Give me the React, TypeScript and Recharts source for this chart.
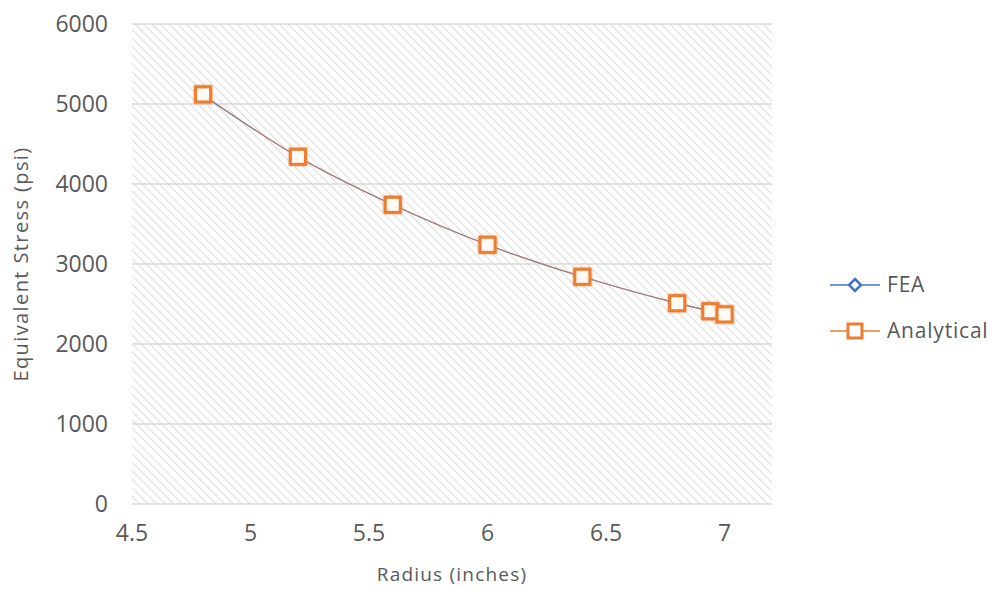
import { LineChart, Line, XAxis, YAxis, CartesianGrid } from "recharts";

const radius = [4.8, 5.2, 5.6, 6.0, 6.4, 6.8, 6.94, 7.0];
const feaStress = [5110, 4340, 3740, 3240, 2840, 2510, 2410, 2370];
const analyticalStress = [5120, 4340, 3740, 3240, 2840, 2510, 2410, 2370];
const xTicks = [4.5, 5, 5.5, 6, 6.5, 7];
const yTicks = [0, 1000, 2000, 3000, 4000, 5000, 6000];

const data = radius.map((r, i) => ({
  radius: r,
  fea: feaStress[i],
  analytical: analyticalStress[i],
}));

const FONT = "'Open Sans', 'DejaVu Sans', sans-serif";
const TEXT = "#595959";
const BLUE = "#4472C4";
const ORANGE = "#ED7D31";

const Diamond = (props: any) => {
  const { cx, cy } = props;
  if (cx == null || cy == null) return null;
  const s = 6;
  return (
    <path
      d={`M${cx},${cy - s} L${cx + s},${cy} L${cx},${cy + s} L${cx - s},${cy} Z`}
      fill="#fff"
      stroke={BLUE}
      strokeWidth={2.5}
    />
  );
};

const Square = (props: any) => {
  const { cx, cy } = props;
  if (cx == null || cy == null) return null;
  const s = 7.5;
  return (
    <rect
      x={cx - s}
      y={cy - s}
      width={s * 2}
      height={s * 2}
      fill="#fffaf5"
      stroke={ORANGE}
      strokeWidth={3}
      filter="url(#glow)"
    />
  );
};

// legend drawn by hand, Excel style
const LegendBox = () => (
  <svg width={185} height={80} style={{ fontFamily: FONT, position: "absolute", left: 825, top: 268 }}>
    <line x1={5} y1={17} x2={55} y2={17} stroke={BLUE} strokeWidth={1.5} />
    <path d="M30,11 L36,17 L30,23 L24,17 Z" fill="#fff" stroke={BLUE} strokeWidth={2.5} />
    <text x={62} y={24} fill={TEXT} fontSize={21} letterSpacing={0.8}>FEA</text>
    <line x1={5} y1={63} x2={55} y2={63} stroke={ORANGE} strokeWidth={1.5} />
    <rect x={23} y={56} width={14} height={14} fill="#fff" stroke={ORANGE} strokeWidth={3} />
    <text x={62} y={70} fill={TEXT} fontSize={21} letterSpacing={0.8}>Analytical</text>
  </svg>
);

export default function App() {
  return (
    <div style={{ position: "absolute", left: 0, top: 0, width: 1005, height: 590, background: "#fff" }}>
      <svg width={0} height={0} style={{ position: "absolute" }}>
        <defs>
          <pattern id="hatch" patternUnits="userSpaceOnUse" width={6} height={6} patternTransform="rotate(-45)">
            <rect width={6} height={6} fill="#ffffff" />
            <line x1={0} y1={0} x2={0} y2={6} stroke="#d4d4d4" strokeWidth={1.6} />
          </pattern>
          <filter id="glow" x="-50%" y="-50%" width="200%" height="200%">
            <feGaussianBlur stdDeviation={1.2} />
            <feMerge>
              <feMergeNode />
              <feMergeNode in="SourceGraphic" />
            </feMerge>
          </filter>
        </defs>
      </svg>
      <LineChart
        width={1005}
        height={590}
        data={data}
        margin={{ top: 24, right: 233, left: 0, bottom: 0 }}
      >
        <CartesianGrid
          vertical={false}
          stroke="#d9d9d9"
          strokeWidth={1.5}
          fill="url(#hatch)"
          fillOpacity={1}
        />
        <XAxis
          type="number"
          dataKey="radius"
          domain={[4.5, 7.2]}
          ticks={xTicks}
          axisLine={false}
          tickLine={false}
          height={86}
          tick={{ fill: TEXT, fontSize: 23, fontFamily: FONT, dy: 13 }}
          label={{
            value: "Radius (inches)",
            position: "insideBottom",
            offset: 9,
            fill: TEXT,
            fontSize: 19,
            fontFamily: FONT,
            letterSpacing: 1.2,
          }}
        />
        <YAxis
          type="number"
          domain={[0, 6000]}
          ticks={yTicks}
          axisLine={false}
          tickLine={false}
          width={132}
          tick={{ fill: TEXT, fontSize: 23, fontFamily: FONT, dx: -16 }}
          label={{
            value: "Equivalent Stress (psi)",
            angle: -90,
            position: "insideLeft",
            offset: 21,
            style: { textAnchor: "middle" },
            fill: TEXT,
            fontSize: 20,
            fontFamily: FONT,
            letterSpacing: 1.4,
          }}
        />
        <Line
          type="monotone"
          dataKey="fea"
          stroke={BLUE}
          strokeWidth={1.2}
          dot={<Diamond />}
          isAnimationActive={false}
        />
        <Line
          type="monotone"
          dataKey="analytical"
          stroke={ORANGE}
          strokeWidth={1.2}
          strokeOpacity={0.6}
          dot={<Square />}
          isAnimationActive={false}
        />
      </LineChart>
      <LegendBox />
    </div>
  );
}
